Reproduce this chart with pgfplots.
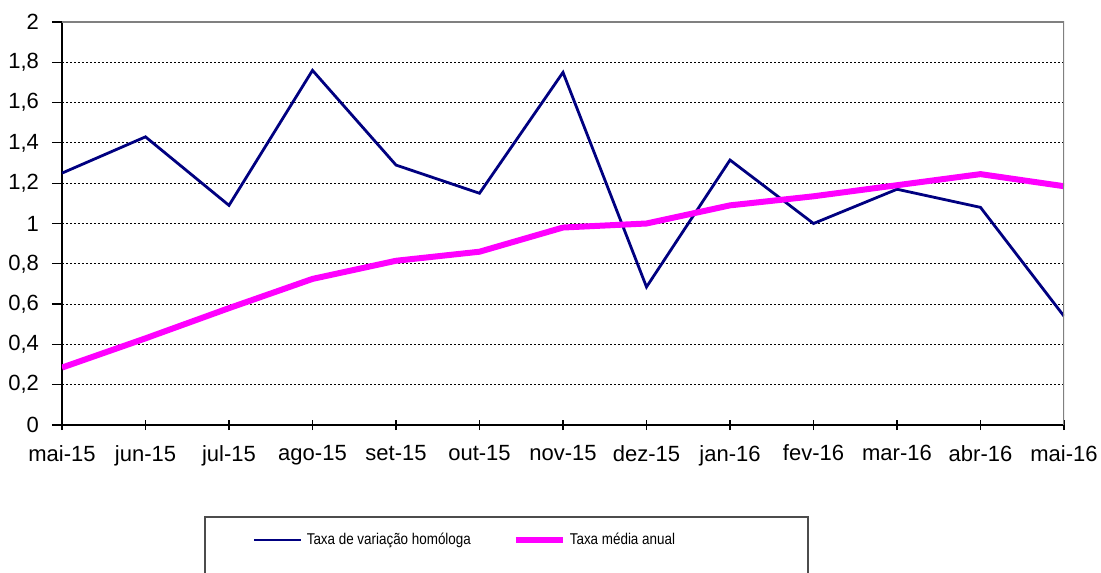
\documentclass[border=0pt]{standalone}
\usepackage{fontspec}
\setmainfont{Liberation Sans}
\newfontfamily\legfont[FakeStretch=0.86]{Liberation Sans}
\usepackage{pgfplots}
\pgfplotsset{compat=1.18}
\definecolor{navyline}{RGB}{0,0,128}
\definecolor{magline}{RGB}{255,0,255}
\begin{document}
\begin{tikzpicture}
\begin{axis}[
  at={(0,0)}, anchor=south west,
  scale only axis, width=501pt, height=201.5pt,
  xmin=0, xmax=12, ymin=0, ymax=2,
  axis x line*=bottom, axis y line*=left,
  axis line style={black, line width=0.9pt},
  xtick={0,...,12},
  xticklabels={mai-15,jun-15,jul-15,ago-15,set-15,out-15,nov-15,dez-15,jan-16,fev-16,mar-16,abr-16,mai-16},
  ytick={0,0.2,...,2.01},
  xtick align=center, ytick align=outside,
  major tick length=5pt,
  tick style={black, line width=0.6pt},
  ymajorgrids,
  grid style={black, dash pattern=on 1.2pt off 0.8pt, line width=0.5pt},
  /pgf/number format/use comma,
  /pgf/number format/assume math mode=true,
  tick label style={font=\fontsize{11}{13}\selectfont},
  xticklabel style={yshift=-4pt},
  yticklabel style={xshift=-3pt},
  legend columns=2,
  legend style={draw=none, fill=none, inner sep=0pt, outer sep=0pt,
    at={(0.1906,-0.2854)}, anchor=west,
    /tikz/every even column/.append style={column sep=19pt},
    font=\legfont\fontsize{7.8}{9}\selectfont,
    nodes={inner sep=2pt}},
  legend image code/.code={\draw[#1] (0pt,0pt) -- (23.5pt,0pt);},
]
\addplot[navyline, line width=1.4pt] coordinates {
  (0,1.25) (1,1.43) (2,1.09) (3,1.76) (4,1.29) (5,1.15) (6,1.75)
  (7,0.685) (8,1.315) (9,1.00) (10,1.17) (11,1.08) (12,0.54)};
\addlegendentry{Taxa de variação homóloga}
\addplot[magline, line width=3pt] coordinates {
  (0,0.285) (1,0.43) (2,0.58) (3,0.725) (4,0.815) (5,0.86) (6,0.98)
  (7,1.00) (8,1.09) (9,1.135) (10,1.19) (11,1.245) (12,1.185)};
\addlegendentry{Taxa média anual}
\draw[gray, line width=0.9pt] (rel axis cs:0,1) -- (rel axis cs:1,1) -- (rel axis cs:1,0);
\end{axis}
\draw[black!70, line width=0.6pt] (71.5pt,-80pt) -- (71.5pt,-46pt) -- (373pt,-46pt) -- (373pt,-80pt);
\pgfresetboundingbox
\useasboundingbox (-31pt,-73.5pt) rectangle (519.5pt,212.5pt);
\end{tikzpicture}
\end{document}
